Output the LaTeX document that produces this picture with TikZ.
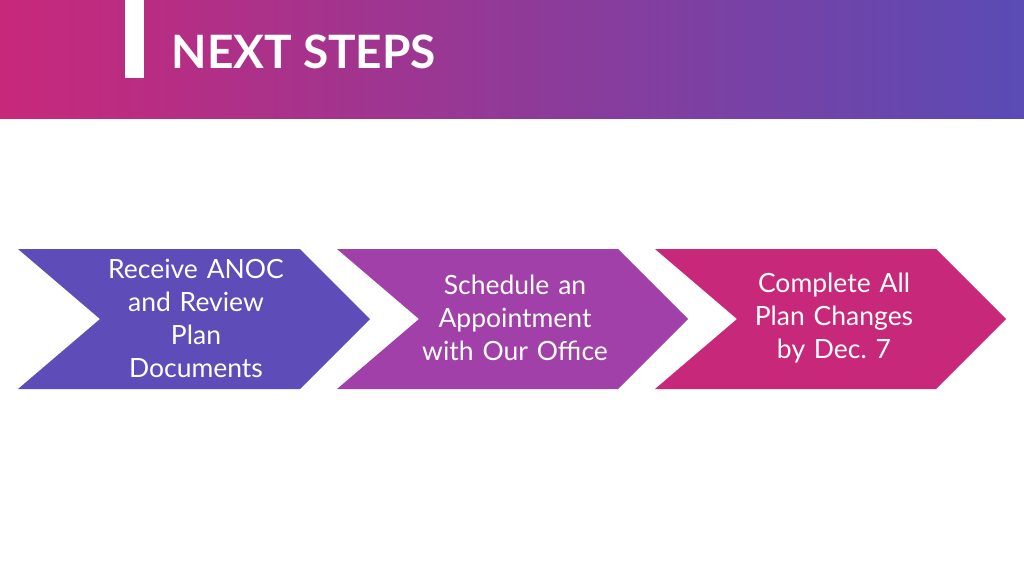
\documentclass[tikz,border=0pt]{standalone}
\usepackage{fontspec}
\setmainfont{Lato}
\definecolor{cpink}{HTML}{C8287A}
\definecolor{cblue}{HTML}{5A4BB5}
\definecolor{cmag}{HTML}{A040A8}
\definecolor{cpur}{HTML}{5E4DB8}
\begin{document}
\frenchspacing
\begin{tikzpicture}[x=1pt,y=-1pt,
  chev/.style={fill=#1,draw=none},
  lbl/.style={text=white,font=\fontsize{26.5}{33}\selectfont,align=center,text width=240pt}]
\useasboundingbox (0,0) rectangle (1024,576);
\fill[white] (0,0) rectangle (1024,576);
\shade[left color=cpink,right color=cblue] (0,0) rectangle (1024,118);
\fill[white] (125,0) rectangle (144,78);
\node[anchor=west,text=white,font=\fontsize{46}{52}\bfseries\selectfont] (title) at (168,52) {NEXT STEPS};
\fill[chev=cpur] (18,249) -- (300,249) -- (370,319) -- (300,389) -- (18,389) -- (100,319) -- cycle;
\fill[chev=cmag] (337,249) -- (618,249) -- (688,319) -- (618,389) -- (337,389) -- (419,319) -- cycle;
\fill[chev=cpink] (655,249) -- (936,249) -- (1006,319) -- (936,389) -- (655,389) -- (737,319) -- cycle;
\node[lbl] (s1) at (196,318) {Receive ANOC\\and Review\\Plan\\Documents};
\node[lbl] (s2) at (515,318) {Schedule an\\Appointment\\with Our Office};
\node[lbl] (s3) at (834,318) {Complete All\\Plan Changes\\by Dec. 7};
\end{tikzpicture}
\end{document}
